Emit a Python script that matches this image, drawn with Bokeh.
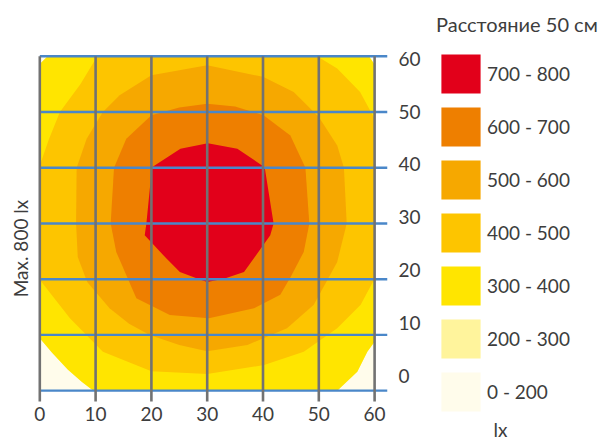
import math
from bokeh.plotting import figure
from bokeh.layouts import row
from bokeh.models import Range1d, LinearAxis, FixedTicker, Legend, LegendItem, Label, ColumnDataSource
from bokeh.core.properties import value
from bokeh.embed import file_html
from bokeh.resources import INLINE

# ---------------- data ----------------
x_ticks = [0, 10, 20, 30, 40, 50, 60]
y_ticks = [0, 10, 20, 30, 40, 50, 60]
x_tick_labels = [str(v) for v in x_ticks]
y_tick_labels = [str(v) for v in y_ticks]

band_labels = ["700 - 800", "600 - 700", "500 - 600", "400 - 500", "300 - 400", "200 - 300", "0 - 200"]
band_colors = ["#E2001A", "#EE7F00", "#F6A800", "#FDC500", "#FFE500", "#FFF49C", "#FFFCEB"]

legend_title = "Расстояние 50 см"
y_title = "Max. 800 lx"
unit_label = "lx"

# iso-lux boundaries (cm); each polygon encloses the area >= its level
iso700_x = [20.1, 25.2, 30.1, 35.4, 40.3, 41.9, 41.3, 38.4, 36.6, 33.0, 30.0, 28.8, 25.1, 22.7, 18.8, 19.1]
iso700_y = [40.1, 43.4, 44.4, 43.4, 40.1, 30.0, 27.9, 23.8, 21.3, 20.1, 19.5, 19.9, 21.3, 23.7, 27.9, 30.0]

iso600_x = [30.0, 35.0, 40.1, 44.9, 47.6, 48.3, 47.3, 45.0, 43.1, 38.4, 30.3, 23.3, 17.3, 13.7, 12.7, 13.3, 15.5, 20.0, 25.0]
iso600_y = [51.5, 51.0, 49.4, 45.8, 40.0, 30.0, 24.9, 20.5, 17.2, 14.8, 13.0, 13.6, 16.6, 24.9, 30.0, 40.0, 45.2, 49.4, 50.8]

iso500_x = [30.0, 40.0, 45.5, 50.0, 53.3, 54.5, 55.0, 53.3, 49.1, 44.3, 37.2, 30.0, 25.0, 19.7, 16.0, 12.5, 8.5, 6.8, 6.5, 6.6, 8.4, 11.3, 14.3, 20.0]
iso500_y = [58.4, 56.3, 53.6, 49.1, 44.0, 40.0, 30.0, 23.1, 15.4, 11.2, 8.2, 7.1, 8.2, 10.0, 12.0, 14.8, 19.5, 24.0, 30.0, 40.0, 45.2, 50.0, 53.0, 56.6]

iso400_x = [0.0, 0.0, 1.6, 3.6, 7.3, 10.3, 49.7, 53.3, 57.4, 60.0, 60.0, 57.5, 53.3, 47.3, 40.2, 30.0, 20.0, 11.3, 5.4]
iso400_y = [19.9, 40.4, 45.0, 50.0, 55.0, 60.0, 60.0, 57.8, 53.6, 48.8, 20.1, 15.4, 11.2, 7.0, 4.6, 3.0, 3.5, 7.0, 13.0]

iso300_x = [0.0, 0.0, 1.4, 59.0, 60.0, 60.0, 58.7, 56.9, 53.3, 9.6, 7.5, 5.0, 2.2]
iso300_y = [9.4, 58.6, 60.0, 60.0, 58.5, 8.8, 7.0, 3.4, 0.0, 0.0, 1.6, 3.8, 6.8]

# the 200-300 band has no visible width at this distance: its boundary coincides with 300
iso200_x = iso300_x
iso200_y = iso300_y

# whole measured square (0 - 200 background)
iso0_x = [x_ticks[0], x_ticks[0], x_ticks[-1], x_ticks[-1]]
iso0_y = [y_ticks[0], y_ticks[-1], y_ticks[-1], y_ticks[0]]

bands_x = [iso700_x, iso600_x, iso500_x, iso400_x, iso300_x, iso200_x, iso0_x]
bands_y = [iso700_y, iso600_y, iso500_y, iso400_y, iso300_y, iso200_y, iso0_y]

# ---------------- style ----------------
FONT = "Lato"
TXT = "#3d3d3d"
H = 441
LINE_EXT = 1.94      # grey lines run a little below the square (acts as tick marks)
XLAB_Y = -4.2        # position of the bottom tick labels (cm below the square)


def blank(width):
    f = figure(width=width, height=H, output_backend="svg", toolbar_location=None,
               x_axis_location=None, y_axis_location=None,
               x_range=Range1d(0, width), y_range=Range1d(H, 0), min_border=0)
    f.outline_line_color = None
    f.grid.visible = False
    f.background_fill_color = "white"
    f.border_fill_color = "white"
    return f


# ---------------- left strip: vertical title ----------------
c = blank(30)
c.add_layout(Label(x=19.5, y=248, text=y_title, angle=math.pi / 2, text_align="center",
                   text_baseline="middle", text_font=FONT, text_font_size="19px", text_color=TXT))

# ---------------- main chart ----------------
p = figure(width=395, height=H, output_backend="svg", toolbar_location=None,
           x_axis_location=None, y_axis_location=None,
           x_range=Range1d(-1.667, 62.31), y_range=Range1d(-9.11, 70.0),
           min_border_left=0, min_border_right=38, min_border_top=0, min_border_bottom=0)
p.outline_line_color = None
p.grid.visible = False
p.background_fill_color = "white"
p.border_fill_color = "white"

for bx, by, col in zip(bands_x[::-1], bands_y[::-1], band_colors[::-1]):
    p.patch(x=bx, y=by, fill_color=col, line_color=None)

x1 = p.x_range.end
h_src = ColumnDataSource(dict(x0=[x_ticks[0]] * len(y_ticks), x1=[x1] * len(y_ticks), y=y_ticks))
p.segment(x0="x0", y0="y", x1="x1", y1="y", source=h_src, line_color="#4a87c9", line_width=2.3)
v_src = ColumnDataSource(dict(x=x_ticks, y0=[y_ticks[0] - LINE_EXT] * len(x_ticks),
                              y1=[y_ticks[-1]] * len(x_ticks)))
p.segment(x0="x", y0="y0", x1="x", y1="y1", source=v_src, line_color="#727272", line_width=2.6)

# bottom tick labels
xl_src = ColumnDataSource(dict(x=x_ticks, y=[XLAB_Y] * len(x_ticks), t=x_tick_labels))
p.text(x="x", y="y", text="t", source=xl_src, text_align="center", text_baseline="middle",
       text_font=value(FONT), text_font_size="19px", text_color=TXT)

# right axis (labels drift upward slightly, as in the original)
y_label_pos = [round(2.7 + 0.9475 * v, 2) for v in y_ticks]
ya = LinearAxis(ticker=FixedTicker(ticks=y_label_pos),
                major_label_overrides={pos: t for pos, t in zip(y_label_pos, y_tick_labels)})
ya.axis_line_color = None
ya.major_tick_line_color = None
ya.minor_tick_line_color = None
ya.major_label_standoff = 5
ya.major_label_text_font = FONT
ya.major_label_text_font_size = "19px"
ya.major_label_text_color = TXT
p.add_layout(ya, "right")

# ---------------- legend panel ----------------
b = blank(188)
nan = float("nan")
swatches = [b.quad(left=[nan], right=[nan], top=[nan], bottom=[nan], fill_color=col, line_color=None)
            for col in band_colors]
legend = Legend(items=[LegendItem(label=lab, renderers=[r]) for lab, r in zip(band_labels, swatches)],
                location=(11, 25), orientation="vertical",
                glyph_width=49, glyph_height=49, spacing=4, label_standoff=2,
                padding=0, margin=0, border_line_color=None, background_fill_alpha=0,
                title=legend_title, title_standoff=13,
                title_text_font=FONT, title_text_font_size="20px", title_text_color=TXT,
                title_text_font_style="normal",
                label_text_font=FONT, label_text_font_size="19px", label_text_color=TXT)
b.add_layout(legend, "center")
b.add_layout(Label(x=68, y=440, text=unit_label, text_align="left", text_baseline="bottom",
                   text_font=FONT, text_font_size="19px", text_color=TXT))

layout = row(c, p, b)
open("out.html", "w").write(file_html(layout, INLINE))
